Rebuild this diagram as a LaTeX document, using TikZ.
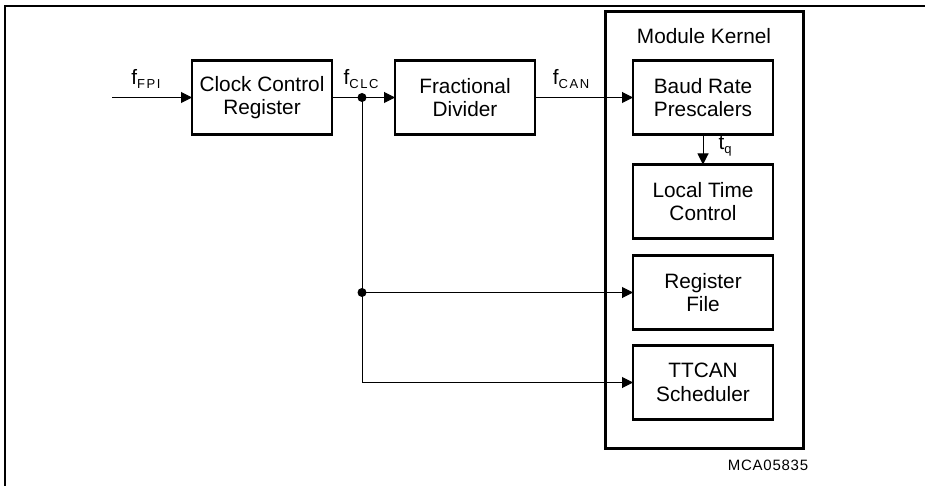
\documentclass[tikz,border=0pt]{standalone}
\usepackage{fontspec}
\setmainfont{Liberation Sans}
\usetikzlibrary{arrows.meta, positioning}
\tikzset{
  arrowK/.style={-{Triangle[length=5.5pt,width=5.5pt]}, line width=0.5pt},
  lineK/.style={line width=0.5pt},
  frameK/.style={line width=0.6pt},
  boxK/.style={rectangle, draw, line width=1.3pt, align=center, outer sep=0pt,
               minimum width=70pt, minimum height=37pt, inner sep=2pt,
               font=\fontsize{10.4}{11.8}\selectfont},
  kernelK/.style={rectangle, draw, line width=1.5pt, outer sep=0pt,
                  minimum width=99pt, minimum height=218pt, inner sep=0pt},
  dotK/.style={circle, fill, inner sep=0pt, minimum size=4.5pt},
  sigK/.style={inner sep=0pt, font=\fontsize{10.4}{11.8}\selectfont},
}
\newcommand{\sgl}[2]{#1\raisebox{-0.4ex}{\fontsize{6.5}{7}\selectfont\addfontfeature{LetterSpace=12}#2}}

\begin{document}
\begin{tikzpicture}[x=0.5pt, y=-0.5pt, font=\fontsize{10.4}{11.8}\selectfont]
    \useasboundingbox (0,0) rectangle (925,486);
    \draw[frameK] (5,486) -- (5,6) -- (925,6);
    % kernel frame
    \node[kernelK] (kernel) at (704,230) {};
    \node[sigK, below=8pt of kernel.north] (kname) {Module Kernel};
    % clock path
    \node[boxK] (ccr) at (262,97.5) {Clock Control\\Register};
    \node[boxK, right=31.5pt of ccr] (frac) {Fractional\\Divider};
    \node[boxK, right=49pt of frac] (brp) {Baud Rate\\Prescalers};
    \node[boxK, below=15pt of brp] (ltc) {Local Time\\Control};
    \node[boxK, below=8.5pt of ltc] (regf) {Register\\File};
    \node[boxK, below=8pt of regf] (ttcan) {TTCAN\\Scheduler};
    \coordinate (in) at (112,97.5);
    \coordinate (j1) at (362,97.5);
    \coordinate (j2) at (j1 |- regf.west);
    \coordinate (j3) at (j1 |- ttcan.west);
    \draw[arrowK] (in) -- (ccr); \draw[arrowK] (ccr) -- (frac); \draw[arrowK] (frac) -- (brp);
    \draw[arrowK] (brp) -- (ltc);
    \draw[lineK] (j1) -- (j3); \draw[arrowK] (j2) -- (regf.west); \draw[arrowK] (j3) -- (ttcan.west);
    \node[dotK] (d1) at (j1) {}; \node[dotK] (d2) at (j2) {};
    % signal labels
    \node[sigK] (ffpi) at (146,79) {\sgl{f}{FPI}};
    \node[sigK] (fclc) at (361,79) {\sgl{f}{CLC}};
    \node[sigK] (fcan) at (571,79) {\sgl{f}{CAN}};
    \node[sigK] (tq) at (725,146) {\sgl{t}{q}};
    \node[inner sep=0pt, font=\fontsize{7.5}{9}\selectfont\addfontfeature{LetterSpace=5}] (fig) at (768,465.5) {MCA05835};
  \end{tikzpicture}
\end{document}
